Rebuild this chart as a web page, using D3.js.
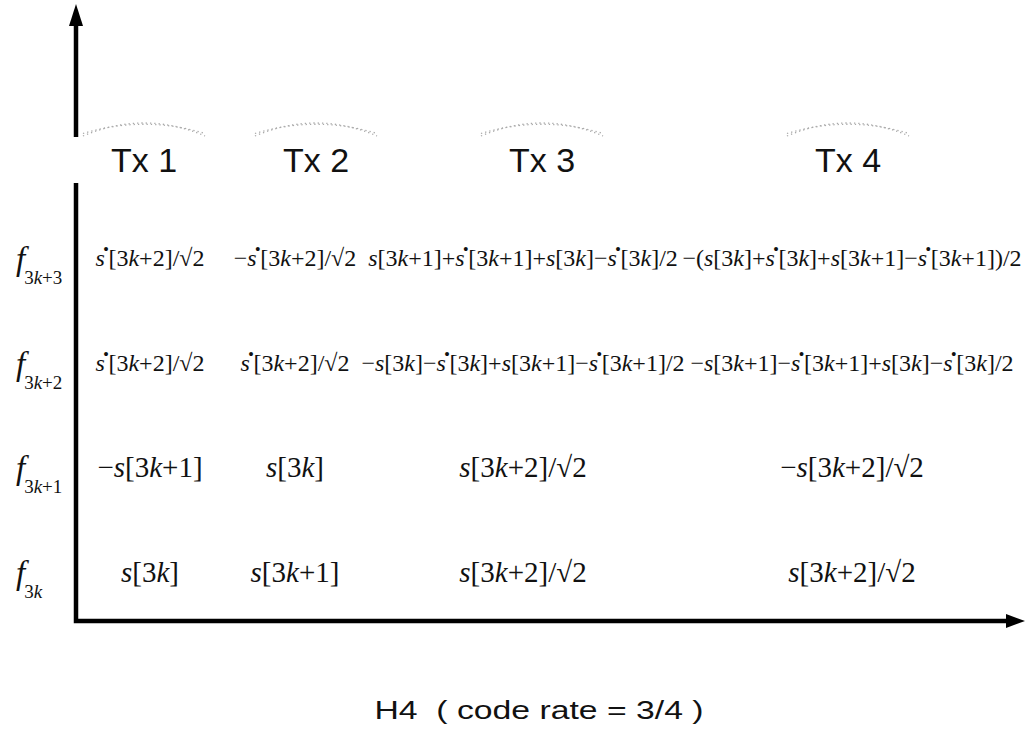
<!DOCTYPE html>
<html>
<head>
<meta charset="utf-8">
<script src="https://cdn.jsdelivr.net/npm/d3@7/dist/d3.min.js"></script>
<style>
  body { margin: 0; background: #fff; }
  svg { display: block; }
</style>
</head>
<body>
<svg id="chart" width="1026" height="745"></svg>
<script>
// table content (s* = conjugate, drawn as a dot over the s)
var columns = ["Tx 1", "Tx 2", "Tx 3", "Tx 4"];
var rows = ["3k+3", "3k+2", "3k+1", "3k"];
var tx1 = ["s*[3k+2]/√2", "s*[3k+2]/√2", "−s[3k+1]", "s[3k]"];
var tx2 = ["−s*[3k+2]/√2", "s*[3k+2]/√2", "s[3k]", "s[3k+1]"];
var tx3 = ["s[3k+1]+s*[3k+1]+s[3k]−s*[3k]/2", "−s[3k]−s*[3k]+s[3k+1]−s*[3k+1]/2", "s[3k+2]/√2", "s[3k+2]/√2"];
var tx4 = ["−(s[3k]+s*[3k]+s[3k+1]−s*[3k+1])/2", "−s[3k+1]−s*[3k+1]+s[3k]−s*[3k]/2", "−s[3k+2]/√2", "s[3k+2]/√2"];
var title = "H4  ( code rate = 3/4 )";

var cells = [tx1, tx2, tx3, tx4];
var axisX = 76, axisY = 621;
var serif = "'Liberation Serif', 'Times New Roman', serif";
var sans = "'Liberation Sans', Arial, sans-serif";

var svg = d3.select("#chart");

// layout scales
var y = d3.scalePoint().domain(rows).range([258, 572]);
var x = d3.scaleOrdinal().domain(columns).range([150, 295, 523, 852]);
var xHead = d3.scaleOrdinal().domain(columns).range([144, 316, 542, 848]);

// small math writer: italic letters, dot superscript for '*'
function writeMath(text, str, fs) {
  var shift = 0;
  Array.from(str).forEach(function (c) {
    if (c === "*") {
      text.append("tspan")
        .attr("dx", -fs * 0.06).attr("dy", -fs * 0.5)
        .attr("font-size", fs * 0.6).attr("font-weight", "bold")
        .text("•");
      shift = fs * 0.5;
      return;
    }
    var t = text.append("tspan").text(c);
    if (shift) { t.attr("dy", shift); shift = 0; }
    if (/[a-z]/.test(c)) t.attr("font-style", "italic");
  });
}

// cells
var cellG = svg.append("g").attr("fill", "#111");
cells.forEach(function (col, ci) {
  col.forEach(function (str, ri) {
    var fs = ri < 2 ? 24 : 29;
    var t = cellG.append("text")
      .attr("x", x(columns[ci]))
      .attr("y", y(rows[ri]) + fs * 0.33)
      .attr("text-anchor", "middle")
      .attr("font-family", serif)
      .attr("font-size", fs);
    writeMath(t, str, fs);
  });
});

// column headers
var heads = svg.append("g").selectAll("text")
  .data(columns).join("text")
  .attr("x", function (d) { return xHead(d); })
  .attr("y", 172)
  .attr("text-anchor", "middle")
  .attr("font-family", sans)
  .attr("font-size", 34)
  .attr("fill", "#111")
  .text(function (d) { return d; });

// faint stipple arcs above headers
heads.each(function () {
  var b = this.getBBox();
  var x0 = b.x - 28, x1 = b.x + b.width + 28, yb = 136;
  [0, 5].forEach(function (o) {
    svg.append("path")
      .attr("d", "M" + x0 + "," + (yb - o / 2) + " Q" + (x0 + x1) / 2 + "," + (yb - 26 + o) + " " + x1 + "," + (yb - o / 2))
      .attr("fill", "none")
      .attr("stroke", "#aaa")
      .attr("stroke-width", 1.3)
      .attr("stroke-dasharray", "1.3 3");
  });
});

// row labels f_{...}
var lab = svg.append("g").selectAll("text")
  .data(rows).join("text")
  .attr("x", 16)
  .attr("y", function (d) { return y(d) + 12; })
  .attr("font-family", serif)
  .attr("fill", "#111");
lab.append("tspan")
  .attr("font-size", 33).attr("font-style", "italic").text("f");
lab.append("tspan")
  .attr("font-size", 19).attr("dy", 14).attr("dx", -1)
  .each(function (d) {
    var s = d3.select(this);
    Array.from(d).forEach(function (c) {
      var t = s.append("tspan").text(c);
      if (c === "k") t.attr("font-style", "italic");
    });
  });

// axes
var axes = svg.append("g")
  .attr("stroke", "#000").attr("stroke-width", 4.5).attr("fill", "none");
axes.append("path").attr("d", d3.line()([[axisX, 22], [axisX, 137]]));
axes.append("path").attr("d", d3.line()([[axisX, 183], [axisX, axisY], [1010, axisY]]))
  .attr("stroke-linejoin", "miter");
svg.append("path")
  .attr("d", d3.line()([[axisX, 4], [axisX - 7, 26], [axisX + 7, 26]]) + "Z")
  .attr("fill", "#000");
svg.append("path")
  .attr("d", d3.line()([[1025, axisY], [1006, axisY - 7], [1006, axisY + 7]]) + "Z")
  .attr("fill", "#000");

// caption
svg.append("text")
  .attr("transform", "translate(539,719) scale(1.35,1.05)")
  .attr("text-anchor", "middle")
  .attr("font-family", sans)
  .attr("font-size", 25)
  .attr("fill", "#111")
  .style("white-space", "pre")
  .text(title);
</script>
</body>
</html>
